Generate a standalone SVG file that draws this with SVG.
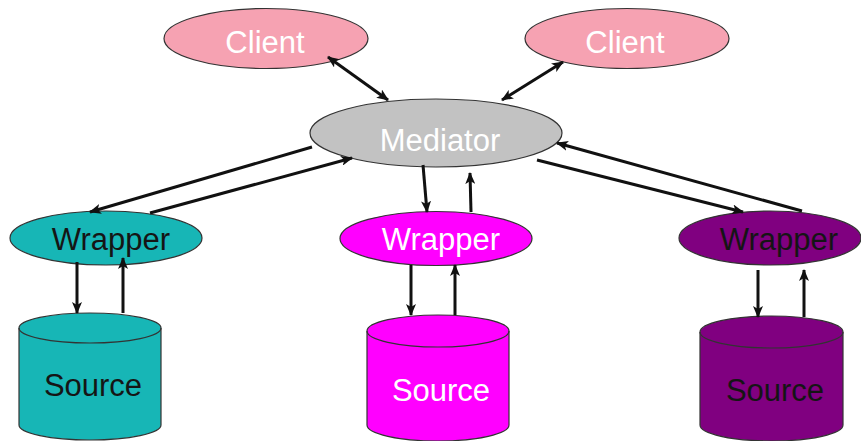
<svg xmlns="http://www.w3.org/2000/svg" width="861" height="441" viewBox="0 0 861 441">
  <defs>
    <marker id="head" viewBox="0 0 12 10" refX="11" refY="5" markerWidth="12" markerHeight="10" markerUnits="userSpaceOnUse" orient="auto-start-reverse">
      <path d="M0,0 L12,5 L0,10 L3,5 z" fill="#111"/>
    </marker>
  </defs>
  <style>
    .shape { stroke: #333; stroke-width: 1.2; }
    .client { fill: #F6A2B2; }
    .mediator { fill: #C2C2C2; }
    .teal { fill: #17B6B6; }
    .magenta { fill: #FF00FF; }
    .purple { fill: #800080; }
    text { font-family: "Liberation Sans", Arial, sans-serif; font-size: 31px; text-anchor: middle; }
    .light { fill: #FFFFFF; }
    .dark { fill: #151515; }
    .conn { stroke: #111; stroke-width: 3; fill: none; }
  </style>
  <rect width="861" height="441" fill="#FFFFFF"/>

  <g id="client-left">
    <ellipse class="shape client" cx="266" cy="38.5" rx="102" ry="30"/>
    <text class="light" x="265" y="53">Client</text>
  </g>
  <g id="client-right">
    <ellipse class="shape client" cx="627" cy="38.5" rx="102" ry="30"/>
    <text class="light" x="625" y="53">Client</text>
  </g>
  <g id="mediator">
    <ellipse class="shape mediator" cx="436" cy="133" rx="126" ry="34"/>
    <text class="light" x="440" y="151">Mediator</text>
  </g>

  <g id="wrapper-left">
    <ellipse class="shape teal" cx="106" cy="238" rx="96" ry="27"/>
    <text class="dark" x="111" y="250">Wrapper</text>
  </g>
  <g id="wrapper-middle">
    <ellipse class="shape magenta" cx="436" cy="238.5" rx="96" ry="27"/>
    <text class="light" x="441" y="250">Wrapper</text>
  </g>
  <g id="wrapper-right">
    <ellipse class="shape purple" cx="770" cy="238" rx="91" ry="27"/>
    <text class="dark" x="779" y="250">Wrapper</text>
  </g>

  <g id="source-left">
    <path class="shape teal" d="M19,328 A71,15 0 0 1 161,328 L161,425 A71,15 0 0 1 19,425 Z"/>
    <path class="shape" fill="none" d="M19,328 A71,15 0 0 0 161,328"/>
    <text class="dark" x="93" y="396">Source</text>
  </g>
  <g id="source-middle">
    <path class="shape magenta" d="M367,331 A71,16 0 0 1 509,331 L509,425 A71,16 0 0 1 367,425 Z"/>
    <path class="shape" fill="none" d="M367,331 A71,16 0 0 0 509,331"/>
    <text class="light" x="441" y="401">Source</text>
  </g>
  <g id="source-right">
    <path class="shape purple" d="M700,332 A71.5,16 0 0 1 843,332 L843,425 A71.5,16 0 0 1 700,425 Z"/>
    <path class="shape" fill="none" d="M700,332 A71.5,16 0 0 0 843,332"/>
    <text class="dark" x="775" y="401">Source</text>
  </g>

  <g id="connectors">
    <line class="conn" x1="328" y1="57" x2="388" y2="100" marker-start="url(#head)" marker-end="url(#head)"/>
    <line class="conn" x1="563" y1="62" x2="502" y2="100" marker-start="url(#head)" marker-end="url(#head)"/>
    <line class="conn" x1="312" y1="147" x2="90" y2="212" marker-end="url(#head)"/>
    <line class="conn" x1="150" y1="213" x2="352" y2="158" marker-end="url(#head)"/>
    <line class="conn" x1="423" y1="165" x2="427" y2="212" marker-end="url(#head)"/>
    <line class="conn" x1="471" y1="212" x2="470" y2="173" marker-end="url(#head)"/>
    <line class="conn" x1="537" y1="160" x2="743" y2="212" marker-end="url(#head)"/>
    <line class="conn" x1="802" y1="211" x2="557" y2="143" marker-end="url(#head)"/>
    <line class="conn" x1="77" y1="262" x2="77" y2="313" marker-end="url(#head)"/>
    <line class="conn" x1="123" y1="313" x2="123" y2="258" marker-end="url(#head)"/>
    <line class="conn" x1="411" y1="265" x2="411" y2="315" marker-end="url(#head)"/>
    <line class="conn" x1="455" y1="315" x2="455" y2="265" marker-end="url(#head)"/>
    <line class="conn" x1="758" y1="270" x2="758" y2="317" marker-end="url(#head)"/>
    <line class="conn" x1="804" y1="317" x2="804" y2="270" marker-end="url(#head)"/>
  </g>
</svg>
